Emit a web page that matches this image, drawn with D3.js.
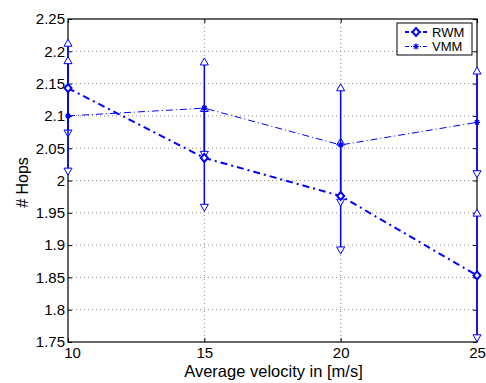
<!DOCTYPE html>
<html>
<head>
<meta charset="utf-8">
<title># Hops vs velocity</title>
<script src="https://d3js.org/d3.v7.min.js"></script>
<style>
  body { margin: 0; background: #fff; }
  svg text { font-family: "Liberation Sans", Arial, sans-serif; fill: #000; }
  .grid line { stroke: #888; stroke-width: 1; stroke-dasharray: 1,3; }
  .axis path { display: none; }
  .axis line { stroke: #000; }
</style>
</head>
<body>
<div id="plot"></div>
<script>
// data
var velocity = [10, 15, 20, 25]
var rwmMean = [2.143, 2.035, 1.976, 1.853]
var rwmErr  = [0.070, 0.077, 0.084, 0.097]
var vmmMean = [2.100, 2.112, 2.055, 2.090]
var vmmErr  = [0.086, 0.072, 0.089, 0.080]
var xTicks = [10, 15, 20, 25]
var yTicks = [1.75, 1.8, 1.85, 1.9, 1.95, 2, 2.05, 2.1, 2.15, 2.2, 2.25]

var margin = {top: 19, right: 9, bottom: 41, left: 68}
var W = 486, H = 383
var width = W - margin.left - margin.right
var height = H - margin.top - margin.bottom
var blue = '#0000ff'

var svg = d3.select('#plot').append('svg')
    .attr('width', W).attr('height', H)
  .append('g')
    .attr('transform', 'translate(' + margin.left + ',' + margin.top + ')')

var x = d3.scaleLinear().domain([10, 25]).range([0, width])
var y = d3.scaleLinear().domain([1.75, 2.25]).range([height, 0])

// grid
svg.append('g').attr('class', 'grid')
  .selectAll('line').data(yTicks.slice(1, -1)).enter().append('line')
    .attr('x1', 0).attr('x2', width)
    .attr('y1', function(d){ return y(d) }).attr('y2', function(d){ return y(d) })
svg.append('g').attr('class', 'grid')
  .selectAll('line').data(xTicks.slice(1, -1)).enter().append('line')
    .attr('y1', 0).attr('y2', height)
    .attr('x1', function(d){ return x(d) }).attr('x2', function(d){ return x(d) })

// axes, ticks pointing in
var fmt = function(d){ return d3.format('')(+d.toFixed(2)) }
svg.append('g').attr('class', 'axis')
  .call(d3.axisLeft(y).tickValues(yTicks).tickSize(-4).tickPadding(3).tickFormat(fmt))
svg.append('g').attr('class', 'axis')
  .attr('transform', 'translate(' + width + ',0)')
  .call(d3.axisRight(y).tickValues(yTicks).tickSize(-4).tickFormat(''))
var xAxis = svg.append('g').attr('class', 'axis')
  .attr('transform', 'translate(0,' + height + ')')
  .call(d3.axisBottom(x).tickValues(xTicks).tickSize(-4).tickPadding(5))
svg.append('g').attr('class', 'axis')
  .call(d3.axisTop(x).tickValues(xTicks).tickSize(-4).tickFormat(''))
svg.selectAll('.axis text').style('font-size', '15px')
// the first label sits a bit right of its tick, as in the original
xAxis.selectAll('.tick text').filter(function(d){ return d === 10 }).attr('dx', 4)

svg.append('rect')
  .attr('width', width).attr('height', height)
  .attr('fill', 'none').attr('stroke', '#000').attr('stroke-width', 1.2)

// lines
var rwm = velocity.map(function(v, i){ return {x: v, m: rwmMean[i], e: rwmErr[i]} })
var vmm = velocity.map(function(v, i){ return {x: v, m: vmmMean[i], e: vmmErr[i]} })
var line = d3.line().x(function(d){ return x(d.x) }).y(function(d){ return y(d.m) })

svg.append('path').datum(vmm).attr('d', line)
  .attr('fill', 'none').attr('stroke', blue).attr('stroke-width', 1)
  .attr('stroke-dasharray', '7,3,1,3')
svg.append('path').datum(rwm).attr('d', line)
  .attr('fill', 'none').attr('stroke', blue).attr('stroke-width', 2)
  .attr('stroke-dasharray', '7,4,2,4')

// error bars
var tri = d3.symbol().type(d3.symbolTriangle).size(28)
function errorBars(data){
  var g = svg.append('g')
  g.selectAll('line').data(data).enter().append('line')
    .attr('x1', function(d){ return x(d.x) }).attr('x2', function(d){ return x(d.x) })
    .attr('y1', function(d){ return y(d.m + d.e) }).attr('y2', function(d){ return y(d.m - d.e) })
    .attr('stroke', blue).attr('stroke-width', 1.5)
  g.selectAll('.up').data(data).enter().append('path')
    .attr('d', tri)
    .attr('transform', function(d){ return 'translate(' + x(d.x) + ',' + (y(d.m + d.e) + 1) + ')' })
    .attr('fill', '#fff').attr('stroke', blue).attr('stroke-width', 1)
  g.selectAll('.dn').data(data).enter().append('path')
    .attr('d', tri)
    .attr('transform', function(d){ return 'translate(' + x(d.x) + ',' + (y(d.m - d.e) - 1) + ') rotate(180)' })
    .attr('fill', '#fff').attr('stroke', blue).attr('stroke-width', 1)
}
errorBars(rwm)
errorBars(vmm)

// markers
var diamond = 'M0,-4L3.5,0L0,4L-3.5,0Z'
var star = 'M-3,0L3,0M0,-3L0,3M-2.2,-2.2L2.2,2.2M-2.2,2.2L2.2,-2.2'
svg.selectAll('.dia').data(rwm).enter().append('path')
  .attr('d', diamond)
  .attr('transform', function(d){ return 'translate(' + x(d.x) + ',' + y(d.m) + ')' })
  .attr('fill', '#fff').attr('stroke', blue).attr('stroke-width', 2)
svg.selectAll('.star').data(vmm).enter().append('path')
  .attr('d', star)
  .attr('transform', function(d){ return 'translate(' + x(d.x) + ',' + y(d.m) + ')' })
  .attr('fill', 'none').attr('stroke', blue).attr('stroke-width', 1.2)

// axis labels
svg.append('text')
  .attr('x', width / 2 + 1).attr('y', height + 35)
  .attr('text-anchor', 'middle').style('font-size', '16.5px')
  .text('Average velocity in [m/s]')
svg.append('text')
  .attr('transform', 'translate(' + (-40) + ',' + (height / 2 + 2) + ') rotate(-90)')
  .attr('text-anchor', 'middle').style('font-size', '16px')
  .text('# Hops')

// legend
var lg = svg.append('g').attr('transform', 'translate(' + (width - 80) + ',4)')
lg.append('rect').attr('width', 75).attr('height', 32)
  .attr('fill', '#fff').attr('stroke', '#000').attr('stroke-width', 1)
var entries = [
  {name: 'RWM', w: 2, dash: '4,2,1,2', mark: diamond, fill: '#fff'},
  {name: 'VMM', w: 1, dash: '4,2,1,2', mark: star, fill: 'none'}
]
entries.forEach(function(e, i){
  var cy = 9 + i * 14.5
  lg.append('line').attr('x1', 8).attr('x2', 30).attr('y1', cy).attr('y2', cy)
    .attr('stroke', blue).attr('stroke-width', e.w).attr('stroke-dasharray', e.dash)
  lg.append('path').attr('d', e.mark)
    .attr('transform', 'translate(19,' + cy + ')')
    .attr('fill', e.fill).attr('stroke', blue).attr('stroke-width', e.w === 2 ? 2 : 1.2)
  lg.append('text').attr('x', 35).attr('y', cy + 4.5)
    .style('font-size', '13px').text(e.name)
})
</script>
</body>
</html>
